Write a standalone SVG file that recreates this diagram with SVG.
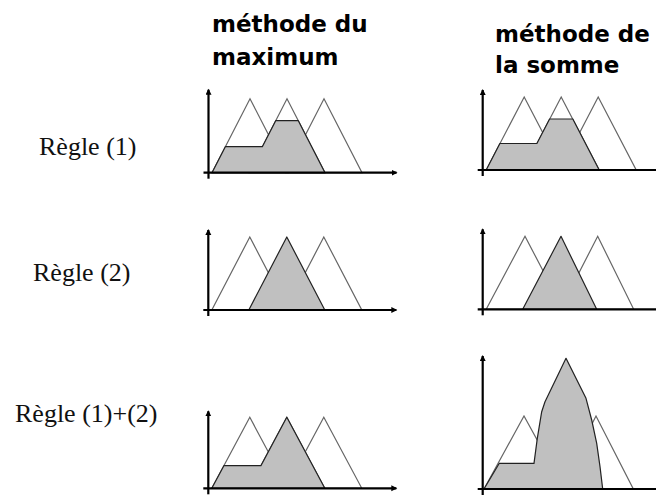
<svg xmlns="http://www.w3.org/2000/svg" width="656" height="496" viewBox="0 0 656 496">
<style>
.hdr{font-family:"DejaVu Sans",Verdana,sans-serif;font-weight:bold;font-size:23px;fill:#000}
.lbl{font-family:"Liberation Serif","Times New Roman",serif;font-size:26px;fill:#111}
.axis{stroke:#000;stroke-width:2.2;fill:none}
.tri{fill:none;stroke:#666;stroke-width:1.2}
.area{fill:#c0c0c0;stroke:#222;stroke-width:1.2;stroke-linejoin:round}
</style>
<defs>
<marker id="ah" markerUnits="userSpaceOnUse" markerWidth="8" markerHeight="8" refX="5" refY="3" orient="auto">
<path d="M0,0 L6,3 L0,6 Z" fill="#000"/>
</marker>
</defs>
<rect width="656" height="496" fill="#fff"/>
<g id="headers">
<text class="hdr" x="212" y="32">méthode du</text>
<text class="hdr" x="212" y="65">maximum</text>
<text class="hdr" x="495" y="42">méthode de</text>
<text class="hdr" x="495" y="73">la somme</text>
</g>
<g id="labels">
<text class="lbl" x="39" y="155">Règle (1)</text>
<text class="lbl" x="33" y="281">Règle (2)</text>
<text class="lbl" x="15" y="422">Règle (1)+(2)</text>
</g>
<g id="max-r1" transform="translate(208.5,172.7)">
<polygon class="tri" points="3.5,0 41.5,-74 79.5,0"/>
<polygon class="tri" points="40.5,0 78.5,-74 116.5,0"/>
<polygon class="tri" points="77.5,0 115.5,-74 153.5,0"/>
<path class="area" d="M3.5,0 L16.85,-26 L53.85,-26 L67.2,-52 L89.8,-52 L116.5,0 Z"/>
<line class="axis" x1="-5" y1="0" x2="188" y2="0" marker-end="url(#ah)"/>
<line class="axis" x1="0" y1="6" x2="0" y2="-83" marker-end="url(#ah)"/>
</g>
<g id="sum-r1" transform="translate(482.7,170)">
<polygon class="tri" points="3.5,0 41.5,-73 79.5,0"/>
<polygon class="tri" points="40.5,0 78.5,-73 116.5,0"/>
<polygon class="tri" points="77.5,0 115.5,-73 153.5,0"/>
<path class="area" d="M3.5,0 L17.2,-26.5 L54.2,-26.5 L66.9,-51 L90.1,-51 L116.5,0 Z"/>
<line class="axis" x1="-5" y1="0" x2="180" y2="0"/>
<line class="axis" x1="0" y1="6" x2="0" y2="-80" marker-end="url(#ah)"/>
</g>
<g id="max-r2" transform="translate(208.3,310)">
<polygon class="tri" points="3.5,0 41.5,-73 79.5,0"/>
<polygon class="tri" points="77.5,0 115.5,-73 153.5,0"/>
<polygon class="area" points="40.5,0 78.5,-73 116.5,0"/>
<line class="axis" x1="-5" y1="0" x2="188" y2="0" marker-end="url(#ah)"/>
<line class="axis" x1="0" y1="6" x2="0" y2="-80" marker-end="url(#ah)"/>
</g>
<g id="sum-r2" transform="translate(482.7,309.3)">
<polygon class="tri" points="3.5,0 42.3,-73 80.5,0"/>
<polygon class="tri" points="77.5,0 115,-73 151,0"/>
<polygon class="area" points="40,0 78.3,-73 114,0"/>
<line class="axis" x1="-5" y1="0" x2="180" y2="0"/>
<line class="axis" x1="0" y1="6" x2="0" y2="-80" marker-end="url(#ah)"/>
</g>
<g id="max-r3" transform="translate(208.3,488.3)">
<polygon class="tri" points="3.5,0 41.5,-71 79.5,0"/>
<polygon class="tri" points="40.5,0 78.5,-71 116.5,0"/>
<polygon class="tri" points="77.5,0 115.5,-71 153.5,0"/>
<path class="area" d="M3.5,0 L15.6,-22.6 L52.6,-22.6 L78.5,-71 L116.5,0 Z"/>
<line class="axis" x1="-5" y1="0" x2="188" y2="0" marker-end="url(#ah)"/>
<line class="axis" x1="0" y1="6" x2="0" y2="-77" marker-end="url(#ah)"/>
</g>
<g id="sum-r3">
<polygon class="tri" points="484,489 524,416 564,489"/>
<polygon class="tri" points="559,489 596,416 633.3,489"/>
<path class="area" d="M484,489 L499.3,463.3 L534,463.3 L537.3,438.3 L541.7,411.7 L545,401.7 L566,358.3 L586,398.3 L591.7,420 L596.7,443.3 L600,466.7 L602.7,489 Z"/>
<line class="axis" x1="477.7" y1="489" x2="662" y2="489"/>
<line class="axis" x1="482.7" y1="495" x2="482.7" y2="356" marker-end="url(#ah)"/>
</g>
</svg>
